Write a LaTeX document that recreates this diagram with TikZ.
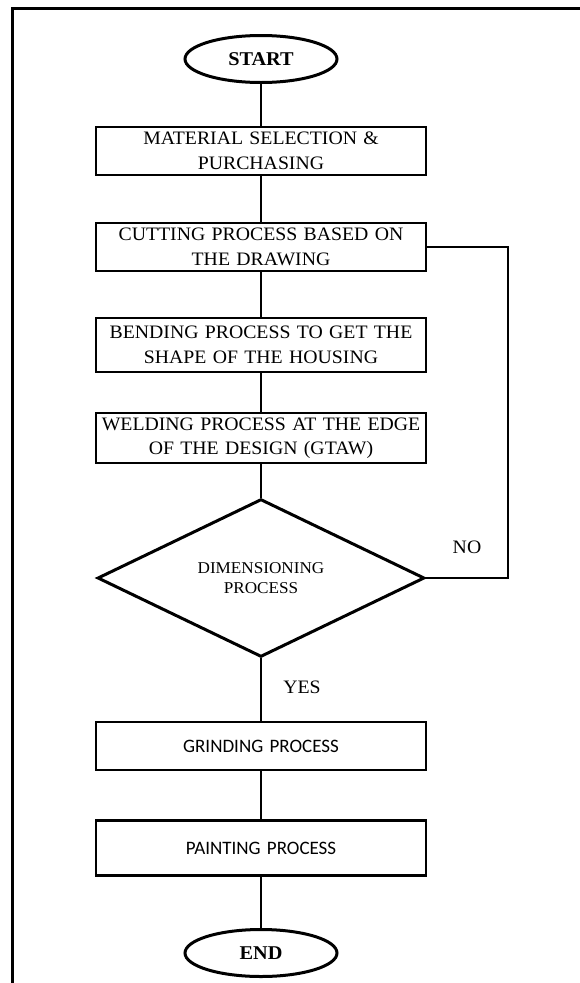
\documentclass[tikz,border=0pt]{standalone}
\usepackage{fontspec}
\setmainfont{Liberation Serif}[FakeStretch=1.04]
\newfontfamily\boxsans{Carlito}
\usetikzlibrary{shapes.geometric}

\tikzset{
  frameline/.style={line width=3pt},
  link/.style={line width=1.6pt},
  procbox/.style={draw, line width=2.1pt, minimum width=330pt, text width=326pt,
    inner sep=0pt, align=center, font=\fontsize{19}{24.5}\selectfont},
  sansbox/.style={procbox, font=\boxsans\fontsize{19}{22}\selectfont},
  terminal/.style={draw, ellipse, line width=3pt, minimum width=152pt,
    minimum height=47pt, inner sep=0pt, font=\bfseries\fontsize{19.5}{22}\selectfont},
  decision/.style={draw, diamond, line width=3pt, minimum width=327pt,
    minimum height=149pt, inner sep=0pt, align=center,
    font=\fontsize{16.5}{20}\selectfont},
  tag/.style={font=\fontsize{19}{22}\selectfont, inner sep=0pt}
}

\begin{document}
\begin{tikzpicture}[x=1pt, y=-1pt]
  \useasboundingbox (0,0) rectangle (580,983);

  % outer frame (runs off the right and bottom edges)
  \draw[frameline] (580,8) -- (12,8) -- (12,983);

  % flow nodes, all on one vertical axis
  \node[terminal] (start) at (261,59) {START};
  \node[procbox, minimum height=48pt] (mat) at (261,151) {MATERIAL SELECTION \&\\PURCHASING};
  \node[procbox, minimum height=48pt] (cut) at (261,247) {CUTTING PROCESS BASED ON\\THE DRAWING};
  \node[procbox, minimum height=54pt] (bend) at (261,345) {BENDING PROCESS TO GET THE\\SHAPE OF THE HOUSING};
  \node[procbox, minimum height=50pt] (weld) at (261,438) {WELDING PROCESS AT THE EDGE\\OF THE DESIGN (GTAW)};
  \node[decision] (dim) at (261,578) {DIMENSIONING\\PROCESS};
  \node[sansbox, minimum height=48pt] (grind) at (261,746) {GRINDING PROCESS};
  \node[sansbox, minimum height=55pt] (paint) at (261,848) {PAINTING PROCESS};
  \node[terminal] (end) at (261,953) {END};

  % branch labels
  \node[tag] (yes) at (302,687) {YES};
  \node[tag] (no) at (467,547) {NO};

  % connectors
  \draw[link] (start) -- (mat);
  \draw[link] (mat) -- (cut);
  \draw[link] (cut) -- (bend);
  \draw[link] (bend) -- (weld);
  \draw[link] (weld) -- (dim.north);
  \draw[link] (dim.south) -- (grind);
  \draw[link] (grind) -- (paint);
  \draw[link] (paint) -- (end);

  % NO loop back to cutting
  \coordinate (loopx) at (508,0);
  \draw[link] (dim.east) -| (loopx |- cut.east) -- (cut.east);
\end{tikzpicture}
\end{document}
